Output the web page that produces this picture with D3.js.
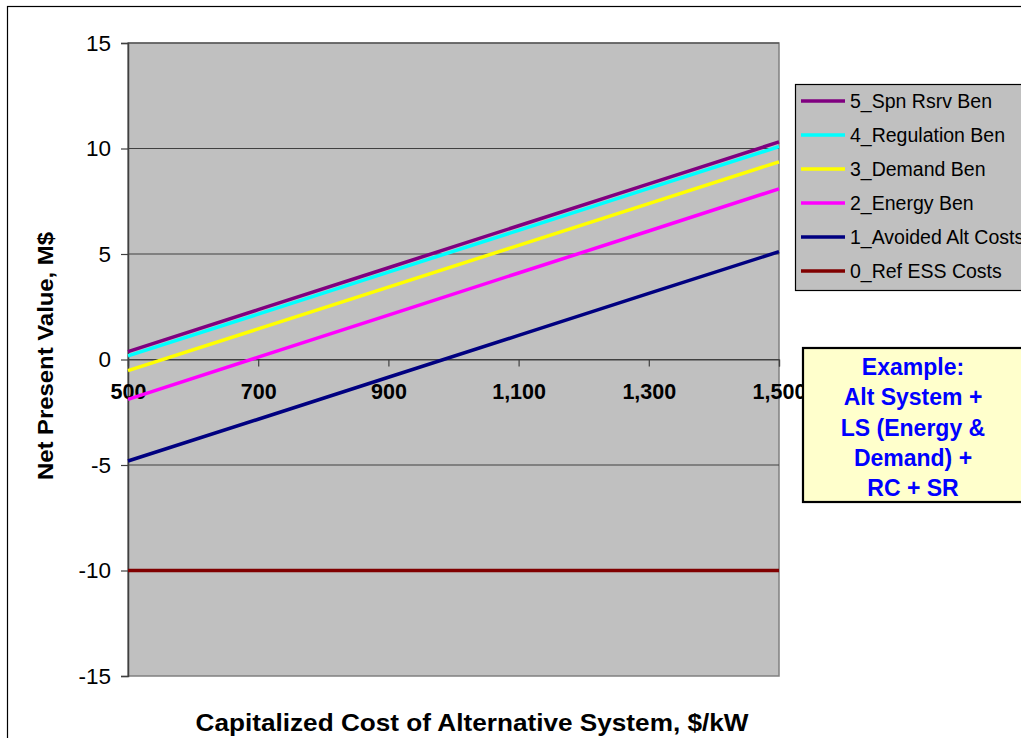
<!DOCTYPE html>
<html>
<head>
<meta charset="utf-8">
<script src="https://cdn.jsdelivr.net/npm/d3@7"></script>
<style>
  html, body { margin: 0; padding: 0; background: #fff; }
  svg { display: block; font-family: Arial, "Liberation Sans", sans-serif; }
</style>
</head>
<body>
<svg id="chart" width="1021" height="738"></svg>
<script>
// Capitalized cost of the alternative system, $/kW
const costs = [500, 700, 900, 1100, 1300, 1500];
const xTicks = [500, 700, 900, 1100, 1300, 1500];
const yTicks = [-15, -10, -5, 0, 5, 10, 15];

// Cumulative net present value, M$
const spnRsrv    = [0.37, 2.36, 4.35, 6.34, 8.32, 10.31];
const regulation = [0.17, 2.15, 4.14, 6.12, 8.11, 10.09];
const demand     = [-0.53, 1.45, 3.43, 5.41, 7.39, 9.37];
const energy     = [-1.89, 0.11, 2.10, 4.10, 6.09, 8.09];
const avoidedAlt = [-4.81, -2.83, -0.84, 1.14, 3.13, 5.11];
const refEss     = [-10, -10, -10, -10, -10, -10];

const seriesNames  = ["5_Spn Rsrv Ben", "4_Regulation Ben", "3_Demand Ben", "2_Energy Ben", "1_Avoided Alt Costs", "0_Ref ESS Costs"];
const seriesValues = [spnRsrv, regulation, demand, energy, avoidedAlt, refEss];
const seriesColors = ["#800080", "#00FFFF", "#FFFF00", "#FF00FF", "#000080", "#800000"];

const noteLines = ["Example:", "Alt System +", "LS (Energy &", "Demand) +", "RC + SR"];

const svg = d3.select("#chart");
const plot = { left: 128, right: 779, top: 43, bottom: 676 };

const x = d3.scaleLinear().domain([500, 1500]).range([plot.left, plot.right]);
const y = d3.scaleLinear().domain([-15, 15]).range([plot.bottom, plot.top]);

// Outer chart frame (only top and left edges fall inside the page)
svg.append("rect")
  .attr("x", 7.5).attr("y", 6.5).attr("width", 1040).attr("height", 760)
  .attr("fill", "#fff").attr("stroke", "#000").attr("stroke-width", 1.2);

// Plot area
svg.append("rect")
  .attr("x", plot.left).attr("y", plot.top)
  .attr("width", plot.right - plot.left).attr("height", plot.bottom - plot.top)
  .attr("fill", "#C0C0C0").attr("stroke", "#808080").attr("stroke-width", 1.5);

// Horizontal gridlines
svg.append("g").selectAll("line")
  .data(yTicks.filter(d => d !== -15))
  .join("line")
  .attr("x1", plot.left).attr("x2", plot.right)
  .attr("y1", d => y(d)).attr("y2", d => y(d))
  .attr("stroke", "#404040").attr("stroke-width", 1);

// Y axis (plain hyphen for negatives)
const yAxis = svg.append("g")
  .attr("transform", `translate(${plot.left},0)`)
  .call(d3.axisLeft(y).tickValues(yTicks).tickSize(7).tickPadding(10).tickFormat(d => String(d)));
yAxis.select(".domain").attr("stroke", "#404040").attr("stroke-width", 1.5);
yAxis.selectAll(".tick line").attr("stroke", "#404040").attr("stroke-width", 1.2);
yAxis.selectAll(".tick text")
  .attr("font-size", 22.5).attr("fill", "#000")
  .attr("font-family", "Arial, 'Liberation Sans', sans-serif");

// X axis along the zero line
const xAxis = svg.append("g")
  .attr("transform", `translate(0,${y(0)})`)
  .call(d3.axisBottom(x).tickValues(xTicks).tickSize(7).tickPadding(17).tickFormat(d3.format(",")));
xAxis.select(".domain").attr("stroke", "#404040").attr("stroke-width", 1.2);
xAxis.selectAll(".tick line").attr("stroke", "#404040").attr("stroke-width", 1.2);
xAxis.selectAll(".tick text")
  .attr("font-size", 21.5).attr("font-weight", "bold").attr("fill", "#000")
  .attr("font-family", "Arial, 'Liberation Sans', sans-serif");

// Series lines
const line = d3.line().x((d, i) => x(costs[i])).y(d => y(d));
svg.append("g").selectAll("path")
  .data(seriesValues.map((v, i) => ({ v, c: seriesColors[i] })).reverse())
  .join("path")
  .attr("d", d => line(d.v))
  .attr("fill", "none")
  .attr("stroke", d => d.c)
  .attr("stroke-width", 3.5);

// Axis titles
svg.append("text")
  .attr("transform", `translate(53,${356}) rotate(-90)`)
  .attr("text-anchor", "middle")
  .attr("font-size", 22).attr("font-weight", "bold")
  .attr("textLength", 248).attr("lengthAdjust", "spacingAndGlyphs")
  .text("Net Present Value, M$");

svg.append("text")
  .attr("x", 472).attr("y", 731)
  .attr("text-anchor", "middle")
  .attr("font-size", 24).attr("font-weight", "bold")
  .attr("textLength", 553).attr("lengthAdjust", "spacingAndGlyphs")
  .text("Capitalized Cost of Alternative System, $/kW");

// Legend
const legend = svg.append("g");
legend.append("rect")
  .attr("x", 795.5).attr("y", 84.5).attr("width", 260).attr("height", 206)
  .attr("fill", "#C0C0C0").attr("stroke", "#000").attr("stroke-width", 1.2);
const items = legend.selectAll("g.item")
  .data(seriesNames)
  .join("g")
  .attr("class", "item")
  .attr("transform", (d, i) => `translate(0,${101 + i * 34})`);
items.append("line")
  .attr("x1", 801).attr("x2", 845).attr("y1", 0).attr("y2", 0)
  .attr("stroke", (d, i) => seriesColors[i]).attr("stroke-width", 3.5);
items.append("text")
  .attr("x", 850).attr("y", 7)
  .attr("font-size", 19.5).attr("fill", "#000")
  .text(d => d);

// Annotation box
const note = svg.append("g");
note.append("rect")
  .attr("x", 803).attr("y", 348).attr("width", 260).attr("height", 154)
  .attr("fill", "#FFFFCC").attr("stroke", "#000").attr("stroke-width", 2.2);
note.selectAll("text")
  .data(noteLines)
  .join("text")
  .attr("x", 913).attr("y", (d, i) => 375 + i * 30.3)
  .attr("text-anchor", "middle")
  .attr("font-size", 23).attr("font-weight", "bold").attr("fill", "#0000FF")
  .text(d => d);
</script>
</body>
</html>
